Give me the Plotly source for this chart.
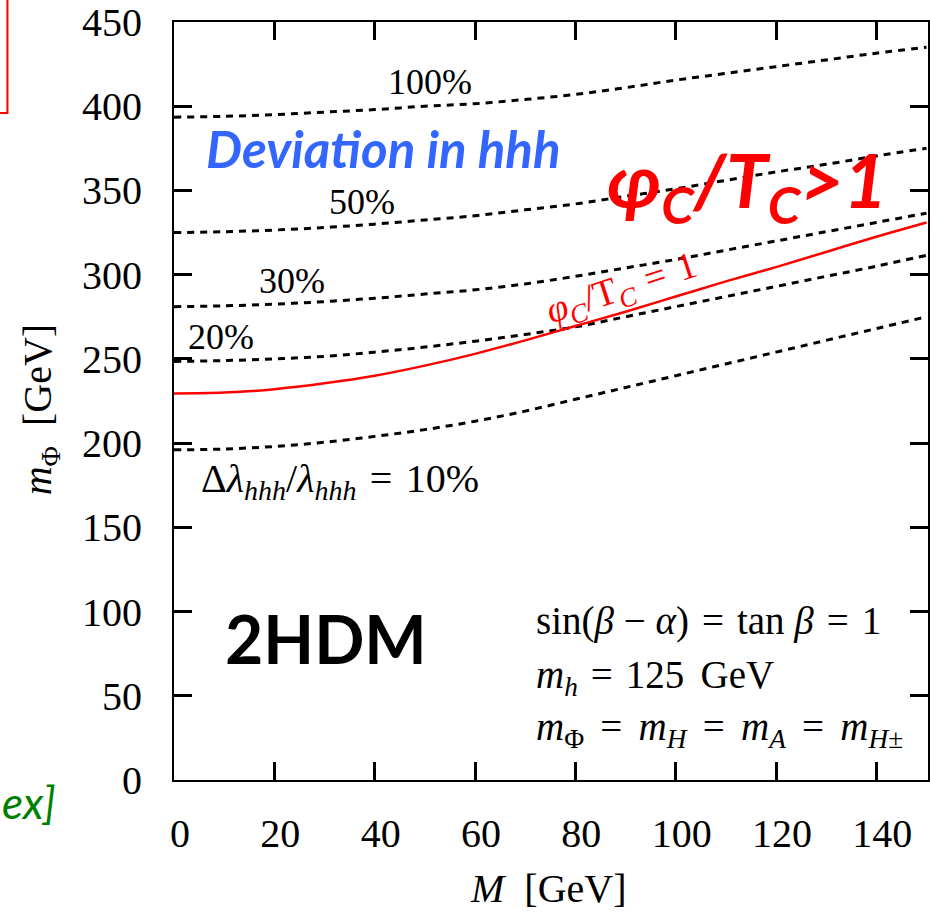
import plotly.graph_objects as go

# ---- data ----
M = [0, 10, 20, 30, 40, 50, 60, 70, 80, 90, 100, 110, 120, 130, 140, 150]
dev_100 = [393.5, 394, 395, 396.5, 398, 400, 401.5, 404, 407, 411, 415.5, 419.5, 423.5, 427.5, 431.5, 435]
dev_50 = [325, 325.5, 326.5, 328, 330, 332.5, 335, 338.5, 342, 346.5, 351, 356, 361, 365.5, 370.5, 375]
dev_30 = [281, 281.5, 282.5, 284, 286, 288.5, 291, 294.5, 299, 304, 309, 314.5, 320, 325.5, 331, 336.5]
dev_20 = [248.5, 249, 250, 251.5, 254, 257, 260.5, 264.5, 269, 275, 281, 287, 293, 299, 305, 311.5]
dev_10 = [196, 196.5, 198, 200.5, 204, 208, 213, 219, 226, 233, 240, 247, 254, 261, 268, 275]
phi_tc_1 = [229.5, 230, 232, 235.5, 240, 246, 253, 261, 269.5, 278, 287, 296, 304.5, 313.5, 322.5, 331]

x_ticks = [0, 20, 40, 60, 80, 100, 120, 140]
y_ticks = [0, 50, 100, 150, 200, 250, 300, 350, 400, 450]

SERIF = "Liberation Serif"
SANS = "Lato"

W, H = 930, 912
L, R, T, B = 174, 0, 22, 132
PW, PH = W - L - R, H - T - B


def px(x):
    return (x - L) / PW


def py(y):
    return (H - B - y) / PH


fig = go.Figure()

for ys in [dev_100, dev_50, dev_30, dev_20, dev_10]:
    fig.add_trace(go.Scatter(x=M, y=ys, mode="lines", line_shape="spline",
                             line=dict(color="black", width=3, dash="7px,6px"),
                             showlegend=False, hoverinfo="skip"))

fig.add_trace(go.Scatter(x=M, y=phi_tc_1, mode="lines", line_shape="spline",
                         line=dict(color="#ff0000", width=2.5),
                         showlegend=False, hoverinfo="skip"))

ann = []


def add(text, x, y, size, family=SERIF, color="black", xanchor="center",
        yanchor="middle", angle=0):
    ann.append(dict(text=text, x=px(x), y=py(y), xref="paper", yref="paper",
                    xanchor=xanchor, yanchor=yanchor, showarrow=False,
                    textangle=angle, font=dict(family=family, size=size, color=color)))


sp = "\u2004"
sm = "\u2005"
s3 = "\u2005\u2006"
add("100%", 431, 82, 36)
add("50%", 362, 202, 36)
add("30%", 292, 281, 36)
add("20%", 221, 337, 36)
add("Δ<i>λ</i><sub><i>hhh</i></sub>/<i>λ</i><sub><i>hhh</i></sub>" + sp + "=" + sp + "10%", 340, 481, 40)
add("<i>φ</i><sub><i>C</i></sub>/T<sub><i>C</i></sub>" + sp + "=" + sp + "1", 623, 290, 38,
    color="#ff0000", angle=-18)
add("<b><i>Deviation in hhh</i></b>", 384, 148, 51, family=SANS, color="#3366ff")
add("<b><i>φ<sub>C</sub>/T<sub>C</sub>&gt;1</i></b>", 749, 184, 75, family=SANS, color="#ff0000")
add("<b>2HDM</b>", 326, 638, 66, family=SANS)
add("sin(<i>β</i>" + sm + "−" + sm + "<i>α</i>)" + sp + "=" + sp + "tan" + sm + "<i>β</i>" + sp + "=" + sp + "1",
    535, 621, 39, xanchor="left")
add("<i>m</i><sub><i>h</i></sub>" + sp + "=" + sp + "125" + s3 + "GeV", 535, 677, 39, xanchor="left")
add("<i>m</i><sub>Φ</sub>" + s3 + "=" + s3 + "<i>m</i><sub><i>H</i></sub>" + s3 + "=" + s3 +
    "<i>m</i><sub><i>A</i></sub>" + s3 + "=" + s3 + "<i>m</i><sub><i>H</i>±</sub>",
    535, 729, 39, xanchor="left")
# axis titles
add("<i>M</i>  [GeV]", 549, 888, 40)
add("<i>m</i><sub>Φ</sub>  [GeV]", 40, 409, 40, angle=-90)
# slide fragments at the left edge
add("<i>ex]</i>", 0, 802, 44, family=SANS, color="#008000", xanchor="left")

fig.update_layout(
    width=W, height=H,
    margin=dict(l=L, r=R, t=T, b=B, pad=0),
    paper_bgcolor="white", plot_bgcolor="white",
    annotations=ann,
    shapes=[dict(type="rect", xref="paper", yref="paper",
                 x0=px(-20), x1=px(7), y0=py(113), y1=py(-20),
                 line=dict(color="#ff0000", width=2))],
)

axis_common = dict(showline=True, linecolor="black", linewidth=2, mirror="ticks",
                   ticks="inside", ticklen=18, tickwidth=3, tickcolor="black",
                   showgrid=False, zeroline=False,
                   tickfont=dict(family=SERIF, size=40, color="black"))

fig.update_xaxes(range=[0, 150.3], tickvals=x_ticks, ticktext=[str(v) for v in x_ticks],
                 ticklabelstandoff=17, ticklabelshift=6, **axis_common)
fig.update_yaxes(range=[0, 450], tickvals=y_ticks, ticktext=[str(v) for v in y_ticks],
                 ticklabelstandoff=22, **axis_common)

fig.write_html("out.html", config={"displayModeBar": False},
               post_script="document.body.style.margin='0';document.body.style.overflow='hidden';")
